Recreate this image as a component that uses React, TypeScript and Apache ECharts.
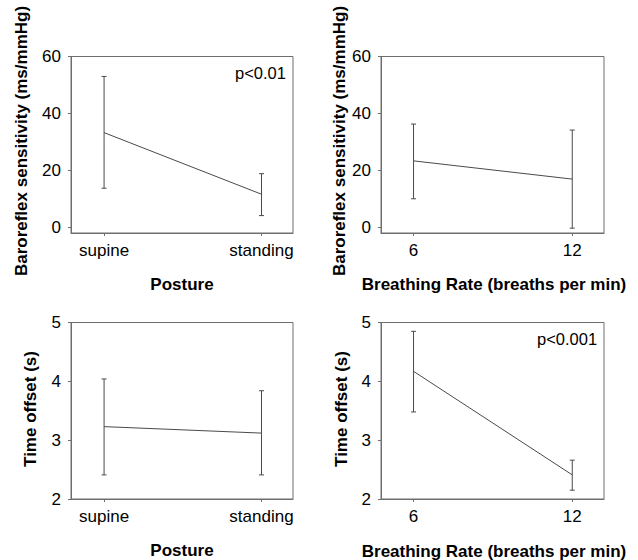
import React, { useEffect, useRef } from "react";
import * as echarts from "echarts";

const postureCats = ["supine", "standing"];
const postureX = [0, 1];
const rateX = [6, 12];

const bpsPostureMean = [33.3, 11.7];
const bpsPostureLow = [13.8, 4.2];
const bpsPostureHigh = [53.0, 18.9];

const bpsRateMean = [23.4, 17.0];
const bpsRateLow = [10.1, -0.2];
const bpsRateHigh = [36.3, 34.2];

const toPostureMean = [3.23, 3.12];
const toPostureLow = [2.41, 2.41];
const toPostureHigh = [4.04, 3.84];

const toRateMean = [4.17, 2.41];
const toRateLow = [3.48, 2.15];
const toRateHigh = [4.85, 2.66];

const bpsTicks = [0, 20, 40, 60];

const AXIS_COLOR = "#6e6e6e";
const DATA_COLOR = "#4a4a4a";
const FONT = "Liberation Sans, Arial, sans-serif";

export default function App() {
  const ref = useRef<HTMLDivElement>(null);

  useEffect(() => {
    if (!ref.current) return;
    const chart = echarts.init(ref.current, null, { renderer: "svg" });

    const grids = [
      { left: 71, top: 56.5, width: 222, height: 176.5 },
      { left: 381, top: 56.5, width: 223, height: 176.5 },
      { left: 71, top: 322.5, width: 222, height: 176.5 },
      { left: 381, top: 322.5, width: 223, height: 176.5 },
    ].map((g) => ({
      ...g,
      show: true,
      borderColor: AXIS_COLOR,
      borderWidth: 1,
      backgroundColor: "transparent",
    }));

    const axisCommon = {
      axisLine: { show: true, onZero: false, lineStyle: { color: AXIS_COLOR, width: 1 } },
      axisTick: { show: true, inside: false, length: 3, lineStyle: { color: AXIS_COLOR } },
      splitLine: { show: false },
    };

    const labelStyle = { color: "#000", fontSize: 17, fontFamily: FONT };

    const xPosture = (gi: number) => ({
      type: "value",
      gridIndex: gi,
      min: -0.21,
      max: 1.2,
      ...axisCommon,
      axisTick: { ...axisCommon.axisTick, customValues: postureX },
      axisLabel: {
        ...labelStyle,
        margin: 9,
        customValues: postureX,
        formatter: (v: number) => postureCats[Math.round(v)] ?? "",
      },
    });
    const xRate = (gi: number) => ({
      type: "value",
      gridIndex: gi,
      min: 4.77,
      max: 13.2,
      ...axisCommon,
      axisTick: { ...axisCommon.axisTick, customValues: rateX },
      axisLabel: { ...labelStyle, margin: 9, customValues: rateX },
    });
    const yBps = (gi: number) => ({
      type: "value",
      gridIndex: gi,
      min: -1.9,
      max: 60,
      ...axisCommon,
      axisTick: { ...axisCommon.axisTick, customValues: bpsTicks },
      axisLabel: { ...labelStyle, margin: 10, customValues: bpsTicks },
    });
    const yTo = (gi: number) => ({
      type: "value",
      gridIndex: gi,
      min: 2,
      max: 5,
      interval: 1,
      ...axisCommon,
      axisLabel: { ...labelStyle, margin: 10 },
    });

    const lineSeries = (idx: number, xs: number[], ys: number[]) => ({
      type: "line",
      xAxisIndex: idx,
      yAxisIndex: idx,
      data: xs.map((x, i) => [x, ys[i]]),
      symbol: "none",
      lineStyle: { color: DATA_COLOR, width: 1 },
      z: 3,
    });

    const errSeries = (idx: number, xs: number[], lo: number[], hi: number[]) => ({
      type: "custom",
      xAxisIndex: idx,
      yAxisIndex: idx,
      clip: false,
      encode: { x: 0, y: [1, 2] },
      data: xs.map((x, i) => [x, lo[i], hi[i]]),
      renderItem: (params: any, api: any) => {
        const x = api.value(0);
        const pLo = api.coord([x, api.value(1)]);
        const pHi = api.coord([x, api.value(2)]);
        const hw = 2.5;
        const style = { stroke: DATA_COLOR, lineWidth: 1, fill: "none" };
        return {
          type: "group",
          children: [
            { type: "line", shape: { x1: pLo[0], y1: pLo[1], x2: pHi[0], y2: pHi[1] }, style },
            { type: "line", shape: { x1: pHi[0] - hw, y1: pHi[1], x2: pHi[0] + hw, y2: pHi[1] }, style },
            { type: "line", shape: { x1: pLo[0] - hw, y1: pLo[1], x2: pLo[0] + hw, y2: pLo[1] }, style },
          ],
        };
      },
      z: 3,
    });

    const boldFont = `bold 17px ${FONT}`;
    const regFont = `16.5px ${FONT}`;
    const txt = (text: string, x: number, y: number, font: string, rotate = false) => ({
      type: "text",
      x,
      y,
      rotation: rotate ? Math.PI / 2 : 0,
      style: {
        text,
        x: 0,
        y: 0,
        font,
        fill: "#000",
        textAlign: "center",
        textVerticalAlign: "middle",
      },
    });

    const option = {
      animation: false,
      backgroundColor: "#fff",
      grid: grids,
      xAxis: [xPosture(0), xRate(1), xPosture(2), xRate(3)],
      yAxis: [yBps(0), yBps(1), yTo(2), yTo(3)],
      series: [
        lineSeries(0, postureX, bpsPostureMean),
        errSeries(0, postureX, bpsPostureLow, bpsPostureHigh),
        lineSeries(1, rateX, bpsRateMean),
        errSeries(1, rateX, bpsRateLow, bpsRateHigh),
        lineSeries(2, postureX, toPostureMean),
        errSeries(2, postureX, toPostureLow, toPostureHigh),
        lineSeries(3, rateX, toRateMean),
        errSeries(3, rateX, toRateLow, toRateHigh),
      ],
      graphic: [
        txt("Baroreflex sensitivity (ms/mmHg)", 21.5, 141, boldFont, true),
        txt("Baroreflex sensitivity (ms/mmHg)", 339.5, 141, boldFont, true),
        txt("Time offset (s)", 30, 409, boldFont, true),
        txt("Time offset (s)", 341.5, 409, boldFont, true),
        txt("Posture", 182, 284, boldFont),
        txt("Breathing Rate (breaths per min)", 494, 284, boldFont),
        txt("Posture", 182, 550, boldFont),
        txt("Breathing Rate (breaths per min)", 494, 551, boldFont),
        txt("p<0.01", 260.5, 73, regFont),
        txt("p<0.001", 567, 339, regFont),
      ],
    };

    chart.setOption(option as any);
    return () => chart.dispose();
  }, []);

  return (
    <div
      ref={ref}
      style={{ position: "fixed", left: 0, top: 0, width: 638, height: 560 }}
    />
  );
}
